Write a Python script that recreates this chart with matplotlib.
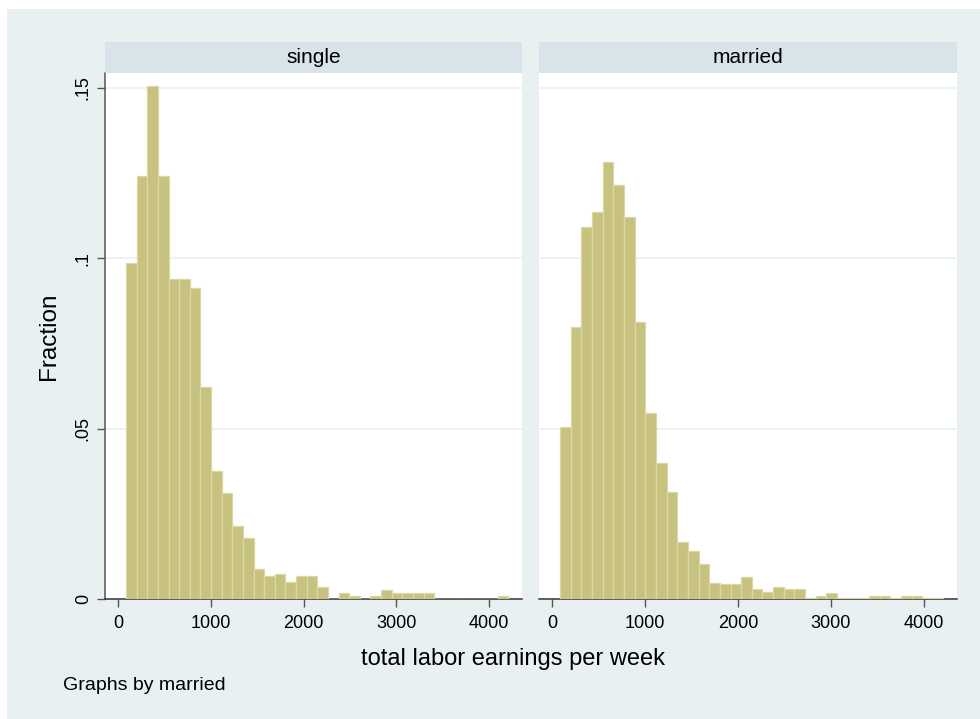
import numpy as np
import matplotlib
matplotlib.use("Agg")
import matplotlib.pyplot as plt
from matplotlib.patches import Rectangle

plt.rcParams['font.family'] = ['Liberation Sans', 'DejaVu Sans']

# Histogram bins shared by both groups (weekly earnings)
earn_min = 83.0
earn_max = 4212.0
n_bins = 36

groups = ["single", "married"]

# Fraction of observations in each bin
frac_single = [
    0.0985, 0.1243, 0.1506, 0.1243, 0.0938, 0.0938, 0.0912, 0.0622, 0.0375,
    0.0311, 0.0215, 0.0178, 0.0087, 0.0067, 0.0073, 0.0051, 0.0067, 0.0067,
    0.0035, 0.0000, 0.0019, 0.0008, 0.0000, 0.0008, 0.0025, 0.0019, 0.0019,
    0.0019, 0.0019, 0.0000, 0.0000, 0.0000, 0.0000, 0.0000, 0.0000, 0.0008,
]
frac_married = [
    0.0505, 0.0797, 0.1093, 0.1135, 0.1283, 0.1214, 0.1120, 0.0814, 0.0546,
    0.0399, 0.0315, 0.0167, 0.0140, 0.0103, 0.0046, 0.0045, 0.0045, 0.0066,
    0.0030, 0.0022, 0.0034, 0.0028, 0.0028, 0.0004, 0.0009, 0.0019, 0.0004,
    0.0004, 0.0004, 0.0009, 0.0009, 0.0004, 0.0009, 0.0009, 0.0004, 0.0004,
]

x_ticks = [0, 1000, 2000, 3000, 4000]
y_ticks = [0, 0.05, 0.10, 0.15]
y_ticklabels = ["0", ".05", ".1", ".15"]

edges = np.linspace(earn_min, earn_max, n_bins + 1)
centers = 0.5 * (edges[:-1] + edges[1:])

W, H = 980, 719
bg = "#e8f0f2"
strip_col = "#d9e4ea"
bar_col = "#c8c280"
bar_edge = "#dcd8a6"
axis_col = "#555555"
grid_col = "#e9f1f3"

fig = plt.figure(figsize=(W / 100, H / 100), dpi=100, facecolor="white")
# graph region background
fig.patches.append(Rectangle((7 / W, 0), 1 - 7 / W, 1 - 9 / H,
                             transform=fig.transFigure, facecolor=bg,
                             edgecolor="none", zorder=-10))

def fx(px):
    return px / W

def fy(py):
    return 1 - py / H

panels = [(105, 522), (539, 957)]
top_px, bot_px, strip_top_px = 73, 599, 42
data = [frac_single, frac_married]

for i, ((x0, x1), name, vals) in enumerate(zip(panels, groups, data)):
    ax = fig.add_axes([fx(x0), fy(bot_px), fx(x1 - x0), (bot_px - top_px) / H])
    ax.set_facecolor("white")
    ax.hist(centers, bins=edges, weights=vals, color=bar_col,
            edgecolor=bar_edge, linewidth=0.9, zorder=3)
    ax.set_xlim(-145, 4358)
    ax.set_ylim(0, 0.1544)
    ax.set_yticks(y_ticks)
    for yv in y_ticks[1:]:
        ax.axhline(yv, color=grid_col, linewidth=1.2, zorder=1)
    ax.set_xticks(x_ticks)
    ax.set_xticklabels([str(v) for v in x_ticks], fontsize=13)
    ax.tick_params(axis="x", direction="out", length=5.5, width=1,
                   color=axis_col, pad=6)
    for s in ["top", "right"]:
        ax.spines[s].set_visible(False)
    ax.spines["bottom"].set_color("#333333")
    ax.spines["bottom"].set_linewidth(1.1)
    if i == 0:
        ax.spines["left"].set_color(axis_col)
        ax.spines["left"].set_linewidth(1.1)
        ax.set_yticklabels(y_ticklabels, fontsize=13, rotation=90,
                           va="center")
        ax.tick_params(axis="y", direction="out", length=5.5, width=1,
                       color=axis_col, pad=4)
        ax.set_ylabel("Fraction", fontsize=17.5, labelpad=11)
    else:
        ax.spines["left"].set_visible(False)
        ax.tick_params(axis="y", left=False, labelleft=False)
    # panel title strip
    fig.patches.append(Rectangle((fx(x0), fy(top_px)), fx(x1 - x0),
                                 (top_px - strip_top_px) / H,
                                 transform=fig.transFigure,
                                 facecolor=strip_col, edgecolor="none"))
    fig.text(fx((x0 + x1) / 2), fy((top_px + strip_top_px) / 2), name,
             ha="center", va="center", fontsize=15)

fig.text(fx(513), fy(659), "total labor earnings per week", ha="center",
         va="center", fontsize=17)
fig.text(fx(63), fy(685), "Graphs by married", ha="left", va="center",
         fontsize=14)

fig.savefig("out.png", dpi=100, facecolor=fig.get_facecolor())
